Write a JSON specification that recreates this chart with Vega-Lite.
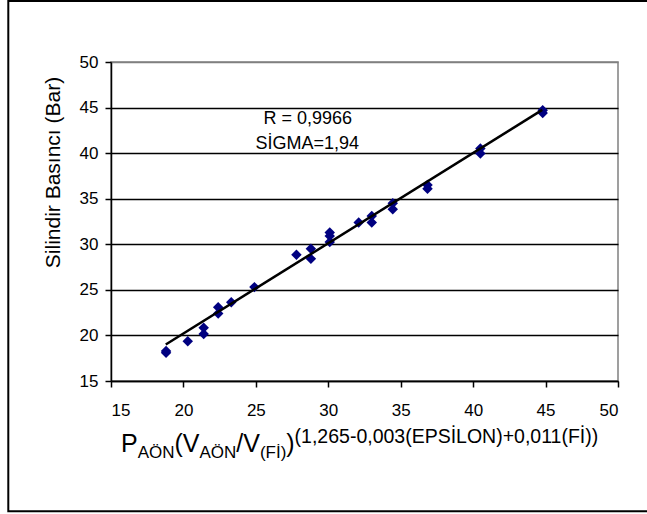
{
  "$schema": "https://vega.github.io/schema/vega-lite/v6.json",
  "width": 507,
  "height": 319,
  "autosize": {"type": "none"},
  "padding": {"left": 111, "top": 62, "right": 29, "bottom": 133},
  "background": "white",
  "config": {
    "font": "Liberation Sans",
    "view": {"stroke": "#808080", "strokeWidth": 1.5},
    "axis": {
      "labelFont": "Liberation Sans",
      "labelFontSize": 17,
      "labelColor": "#000",
      "tickColor": "#000",
      "tickSize": 6,
      "tickWidth": 1.5,
      "domainColor": "#000",
      "domainWidth": 1.5,
      "titleFont": "Liberation Sans",
      "titleColor": "#000",
      "titleFontWeight": "normal"
    }
  },
  "datasets": {
    "pts": [
      {"x": 18.8, "y": 18.3}, {"x": 18.8, "y": 18.1}, {"x": 20.3, "y": 19.35},
      {"x": 21.4, "y": 20.85}, {"x": 21.4, "y": 20.15}, {"x": 22.4, "y": 23.1},
      {"x": 22.4, "y": 22.4}, {"x": 23.3, "y": 23.65}, {"x": 24.9, "y": 25.3},
      {"x": 27.8, "y": 28.85}, {"x": 28.8, "y": 29.5}, {"x": 28.8, "y": 28.4},
      {"x": 30.1, "y": 31.3}, {"x": 30.1, "y": 30.9}, {"x": 30.1, "y": 30.25},
      {"x": 32.1, "y": 32.4}, {"x": 33.0, "y": 33.1}, {"x": 33.0, "y": 32.4},
      {"x": 34.45, "y": 34.5}, {"x": 34.45, "y": 33.85}, {"x": 36.85, "y": 36.5},
      {"x": 36.85, "y": 36.1}, {"x": 40.5, "y": 40.5}, {"x": 40.5, "y": 39.95},
      {"x": 44.8, "y": 44.7}, {"x": 44.8, "y": 44.4}
    ],
    "trend": [{"x": 18.78, "y": 19.0}, {"x": 44.77, "y": 44.75}],
    "notes": [
      {"label": "R = 0,9966", "x": 28.58, "y": 43.2},
      {"label": "SİGMA=1,94", "x": 28.55, "y": 40.45}
    ],
    "xtitle": [
      {"t": "P", "x": 15.69, "part": "main"},
      {"t": "AÖN", "x": 16.843, "part": "sub"},
      {"t": "(V", "x": 19.383, "part": "main"},
      {"t": "AÖN", "x": 21.109, "part": "sub"},
      {"t": "/V", "x": 23.65, "part": "main"},
      {"t": "(Fİ)", "x": 25.279, "part": "sub"},
      {"t": ")", "x": 27.101, "part": "main"},
      {"t": "(1,265-0,003(EPSİLON)+0,011(Fİ))", "x": 27.674, "part": "sup"}
    ]
  },
  "layer": [
    {
      "data": {"name": "pts"},
      "mark": {"type": "point", "shape": "diamond", "filled": true, "color": "#000080", "size": 110, "opacity": 1},
      "encoding": {
        "x": {
          "field": "x", "type": "quantitative",
          "scale": {"domain": [15, 50], "nice": false, "zero": false},
          "axis": {"values": [15, 20, 25, 30, 35, 40, 45, 50], "grid": false, "title": null, "labelPadding": 15}
        },
        "y": {
          "field": "y", "type": "quantitative",
          "scale": {"domain": [15, 50], "nice": false, "zero": false},
          "axis": {
            "values": [15, 20, 25, 30, 35, 40, 45, 50],
            "grid": true,
            "gridColor": {"condition": {"test": "datum.value === 50", "value": "#808080"}, "value": "#000"},
            "gridWidth": 1.5,
            "labelPadding": 7,
            "title": "Silindir Basıncı (Bar)",
            "titleFontSize": 21,
            "titleAngle": -90,
            "titleAlign": "center",
            "titleBaseline": "alphabetic",
            "titleX": -52,
            "titleY": 110
          }
        }
      }
    },
    {
      "data": {"name": "trend"},
      "mark": {"type": "line", "color": "#000", "strokeWidth": 2.5},
      "encoding": {
        "x": {"field": "x", "type": "quantitative", "scale": {"domain": [15, 50], "nice": false, "zero": false}},
        "y": {"field": "y", "type": "quantitative", "scale": {"domain": [15, 50], "nice": false, "zero": false}}
      }
    },
    {
      "data": {"name": "notes"},
      "mark": {"type": "text", "font": "Liberation Sans", "fontSize": 18, "align": "center", "baseline": "alphabetic", "color": "#000"},
      "encoding": {
        "x": {"field": "x", "type": "quantitative", "scale": {"domain": [15, 50], "nice": false, "zero": false}},
        "y": {"field": "y", "type": "quantitative", "scale": {"domain": [15, 50], "nice": false, "zero": false}},
        "text": {"field": "label"}
      }
    },
    {
      "data": {"name": "xtitle"},
      "transform": [{"filter": "datum.part === 'main'"}],
      "mark": {"type": "text", "font": "Liberation Sans", "fontSize": 25, "align": "left", "baseline": "alphabetic", "color": "#000", "clip": false},
      "encoding": {
        "x": {"field": "x", "type": "quantitative", "scale": {"domain": [15, 50], "nice": false, "zero": false}},
        "y": {"datum": 7.21, "type": "quantitative", "scale": {"domain": [15, 50], "nice": false, "zero": false}},
        "text": {"field": "t"}
      }
    },
    {
      "data": {"name": "xtitle"},
      "transform": [{"filter": "datum.part === 'sub'"}],
      "mark": {"type": "text", "font": "Liberation Sans", "fontSize": 17, "align": "left", "baseline": "alphabetic", "color": "#000", "clip": false},
      "encoding": {
        "x": {"field": "x", "type": "quantitative", "scale": {"domain": [15, 50], "nice": false, "zero": false}},
        "y": {"datum": 6.55, "type": "quantitative", "scale": {"domain": [15, 50], "nice": false, "zero": false}},
        "text": {"field": "t"}
      }
    },
    {
      "data": {"name": "xtitle"},
      "transform": [{"filter": "datum.part === 'sup'"}],
      "mark": {"type": "text", "font": "Liberation Sans", "fontSize": 19.5, "align": "left", "baseline": "alphabetic", "color": "#000", "clip": false},
      "encoding": {
        "x": {"field": "x", "type": "quantitative", "scale": {"domain": [15, 50], "nice": false, "zero": false}},
        "y": {"datum": 8.2, "type": "quantitative", "scale": {"domain": [15, 50], "nice": false, "zero": false}},
        "text": {"field": "t"}
      }
    },
    {
      "data": {"values": [{"x1": 7.91, "x2": 52.21, "y1": 56.69, "y2": 0.714}]},
      "mark": {"type": "rect", "filled": false, "stroke": "#000", "strokeWidth": 2, "clip": false},
      "encoding": {
        "x": {"field": "x1", "type": "quantitative", "scale": {"domain": [15, 50], "nice": false, "zero": false}},
        "x2": {"field": "x2"},
        "y": {"field": "y1", "type": "quantitative", "scale": {"domain": [15, 50], "nice": false, "zero": false}},
        "y2": {"field": "y2"}
      }
    }
  ]
}
